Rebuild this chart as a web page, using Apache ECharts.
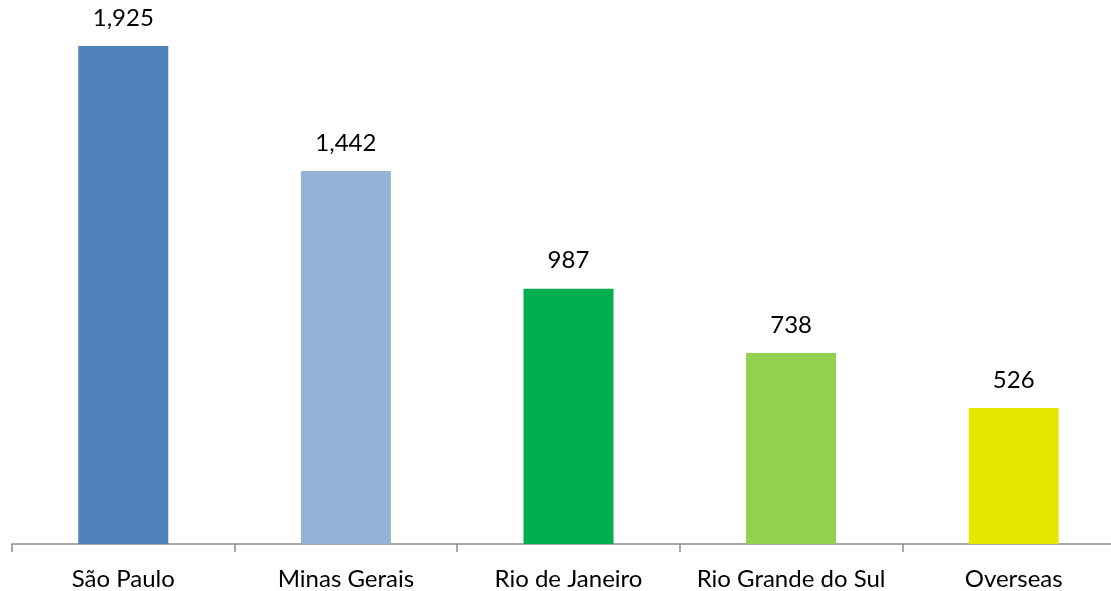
<!DOCTYPE html>
<html>
<head>
<meta charset="utf-8">
<script src="https://cdn.jsdelivr.net/npm/echarts@6/dist/echarts.min.js"></script>
<style>
  html, body { margin: 0; padding: 0; background: #fff; }
  #chart { width: 1111px; height: 591px; }
</style>
</head>
<body>
<div id="chart"></div>
<script>
var chart = echarts.init(document.getElementById('chart'));

// data
const regions = ['São Paulo', 'Minas Gerais', 'Rio de Janeiro', 'Rio Grande do Sul', 'Overseas'];
const counts = [1925, 1442, 987, 738, 526];
const barColors = ['#4F81BD', '#95B3D7', '#00B050', '#92D050', '#E6E600'];

const fontFam = 'Lato, "Open Sans", sans-serif';

chart.setOption({
  animation: false,
  grid: { left: 12, width: 1113, top: 26.6, bottom: 47, outerBoundsMode: 'none' },
  xAxis: {
    type: 'category',
    data: regions,
    axisLine: { lineStyle: { color: '#8c8c8c', width: 1.5 } },
    axisTick: { show: true, length: 8, alignWithLabel: false, lineStyle: { color: '#8c8c8c', width: 1.5 } },
    axisLabel: { color: '#000', fontSize: 24, fontFamily: fontFam, margin: 23, interval: 0 }
  },
  yAxis: {
    type: 'value',
    min: 0,
    max: 2000,
    show: false,
    splitLine: { show: false }
  },
  series: [{
    type: 'bar',
    barWidth: 90,
    data: counts.map(function (v, i) {
      return { value: v, itemStyle: { color: barColors[i] } };
    }),
    label: {
      show: true,
      position: 'top',
      distance: 16,
      color: '#000',
      fontSize: 24,
      fontFamily: fontFam,
      formatter: function (p) { return p.value.toLocaleString('en-US'); }
    }
  }]
});
</script>
</body>
</html>
